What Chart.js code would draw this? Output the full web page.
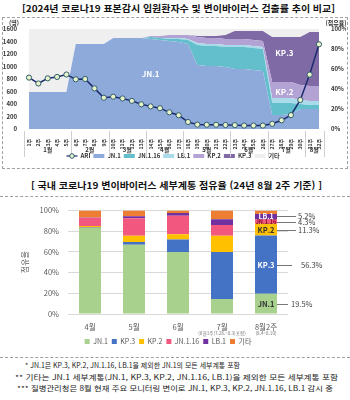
<!DOCTYPE html>
<html lang="ko">
<head>
<meta charset="utf-8">
<script src="https://cdn.jsdelivr.net/npm/chart.js@4.4.1/dist/chart.umd.min.js"></script>
<style>
  body { margin: 0; width: 350px; height: 400px; background: #fff; position: relative; overflow: hidden;
         font-family: "Noto Sans CJK KR", "Noto Sans", sans-serif; }
  .txt { position: absolute; white-space: nowrap; transform-origin: left center; line-height: 10px; color: #111; }
  .titulo { font-weight: bold; font-size: 9.4px; }
  .nota { font-size: 7px; color: #222; }
  #caja1 { position: absolute; left: 2px; top: 17px; width: 344px; height: 150px; border: 1px dashed #a0a0a0; }
  #w1 { position: absolute; left: 0; top: 17px; width: 350px; height: 152px; }
  #w2 { position: absolute; left: 0; top: 197px; width: 350px; height: 158px; }
  .linea { position: absolute; left: 0; width: 350px; height: 0; border-top: 1px dashed #a0a0a0; }
</style>
</head>
<body>
<span class="txt titulo" style="left:22px; top:3px" data-ancho="313">[2024년 코로나19 표본감시 입원환자수 및 변이바이러스 검출률 추이 비교]</span>
<div id="caja1"></div>
<div id="w1"><canvas id="grafica1"></canvas></div>
<span class="txt titulo" style="left:31px; top:180px" data-ancho="291">[ 국내 코로나19 변이바이러스 세부계통 점유율 (24년 8월 2주 기준) ]</span>
<div class="linea" style="top:196px"></div>
<div id="w2"><canvas id="grafica2"></canvas></div>
<div class="linea" style="top:357px"></div>
<span class="txt nota" style="left:25px; top:360px" data-ancho="215">* JN.1은 KP.3, KP.2, JN.1.16, LB.1을 제외한 JN.1의 모든 세부계통 포함</span>
<span class="txt nota" style="left:15px; top:372px" data-ancho="323">** 기타는 JN.1 세부계통(JN.1, KP.3, KP.2, JN.1.16, LB.1)을 제외한 모든 세부계통 포함</span>
<span class="txt nota" style="left:17px; top:383px" data-ancho="316">*** 질병관리청은 8월 현재 주요 모니터링 변이로 JN.1, KP.3, KP.2, JN.1.16, LB.1 감시 중</span>

<script>
// ---------- datos: gráfica 1 (입원환자수 + 검출률) ----------
const semanas = ['1주','2주','3주','4주','5주','6주','7주','8주','9주','10주','11주','12주','13주','14주','15주','16주',
                 '17주','18주','19주','20주','21주','22주','23주','24주','25주','26주','27주','28주','29주','30주','31주','32주'];
const meses = ['1월','2월','3월','4월','5월','6월','7월','8월'];
const semanasPorMes = [5, 4, 4, 4, 5, 4, 4, 2];
const ari = [822,728,811,833,872,795,800,650,500,517,489,450,395,362,333,267,
             220,112,70,68,68,64,62,55,55,55,83,139,222,465,870,1355];
const pctJN1   = [37,37,37,37,37,85,85,85,85,91,91,91,91,90,89,88,87,85,64,63,63,62,60,60,59,58,14,14,15,20,20,20];
const pctJN116 = [0,0,0,0,0,0,0,0,0,0,0,0,0,2,2,2,3,4,20,20,20,20,22,22,22,22,12,12,11,5,4,4];
const pctLB1   = [0,0,0,0,0,0,0,0,0,0,0,0,0,0,0,1,1,1,2,2,2,2,2,2,2,2,5,5,5,4,4,4];
const pctKP2   = [0,0,0,0,0,0,0,0,0,0,0,0,0,1,2,3,3,4,6,6,6,6,6,6,6,6,16,16,16,15,15,15];
const pctKP3   = [0,0,0,0,0,0,0,0,0,0,0,0,0,0,0,0,0,0,1,2,2,4,8,8,9,10,45,45,45,48,54,54];
const pctEtc   = [63,63,63,63,63,15,15,15,15,9,9,9,9,7,7,6,6,6,7,7,7,6,2,2,2,2,8,8,8,8,3,3];
const rotulosArea = [
  { texto: 'JN.1', semana: 13, pct: 55 },
  { texto: 'KP.3', semana: 27.3, pct: 76 },
  { texto: 'KP.2', semana: 27.3, pct: 37.5 }
];

// ---------- datos: gráfica 2 (세부계통 점유율) ----------
const meses2 = ['4월', '5월', '6월', '7월', '8월2주'];
const subMeses2 = ['', '', '', '(8월1주(7.28.~8.3)포함)', '(8.4~8.10)'];
const linajes2 = ['JN.1', 'KP.3', 'KP.2', 'JN.1.16', 'LB.1', '기타'];
const valJN1   = [83, 67, 60, 14.5, 19.5];
const valKP3   = [0.5, 2.5, 12, 45.5, 56.3];
const valKP2   = [1.5, 6, 5, 15.7, 11.3];
const valJN116 = [8, 17, 18, 10.3, 4.3];
const valLB1   = [0.2, 2, 2.5, 5.5, 5.2];
const valEtc   = [6.8, 5.5, 2.5, 8.5, 3.4];

Chart.defaults.font.family = '"Noto Sans CJK KR", "Noto Sans", sans-serif';
Chart.defaults.animation = false;

// ajustar ancho de textos html
document.querySelectorAll('[data-ancho]').forEach(el => {
  const w = el.getBoundingClientRect().width;
  el.style.transform = 'scaleX(' + (el.dataset.ancho / w) + ')';
});

// ---------- gráfica 1 ----------
const coloresArea = ['#8eaadb', '#62bfcb', '#a9dbea', '#b3a3d4', '#7f6aa6', '#efefef'];
const nombresArea = ['JN.1', 'JN.1.16', 'LB.1', 'KP.2', 'KP.3', '기타'];
const seriesArea = [pctJN1, pctJN116, pctLB1, pctKP2, pctKP3, pctEtc];

const dsArea = seriesArea.map((d, i) => ({
  type: 'line',
  label: nombresArea[i],
  data: d,
  yAxisID: 'y1',
  backgroundColor: coloresArea[i],
  borderColor: coloresArea[i],
  borderWidth: 0,
  pointRadius: 0,
  fill: i === 0 ? 'origin' : '-1',
  tension: 0
}));

const gruposMeses = {
  id: 'gruposMeses',
  afterDraw(chart) {
    const x = chart.scales.x, ctx = chart.ctx;
    const abajo = chart.chartArea.bottom;
    const paso = x.getPixelForValue(1) - x.getPixelForValue(0);
    ctx.save();
    ctx.strokeStyle = '#cfcfcf';
    ctx.lineWidth = 1;
    ctx.fillStyle = '#333';
    ctx.font = 'bold 6px "Noto Sans CJK KR"';
    ctx.textAlign = 'center';
    ctx.textBaseline = 'middle';
    let ini = 0;
    semanasPorMes.forEach((n, i) => {
      const fin = ini + n - 1;
      const x0 = x.getPixelForValue(ini) - paso / 2;
      const x1 = x.getPixelForValue(fin) + paso / 2;
      ctx.beginPath();
      ctx.moveTo(Math.round(x0) + 0.5, abajo + 2);
      ctx.lineTo(Math.round(x0) + 0.5, abajo + 28);
      if (i === semanasPorMes.length - 1) {
        ctx.moveTo(Math.round(x1) + 0.5, abajo + 2);
        ctx.lineTo(Math.round(x1) + 0.5, abajo + 28);
      }
      ctx.stroke();
      ctx.fillText(meses[i], (x0 + x1) / 2, abajo + 21);
      ini = fin + 1;
    });
    // titulos de ejes
    ctx.font = 'bold 6px "Noto Sans CJK KR"';
    ctx.fillText('(명)', 14, chart.chartArea.top - 6);
    ctx.fillText('(점유율)', 336, chart.chartArea.top - 6);
    // rotulos dentro del area
    ctx.fillStyle = '#ffffff';
    ctx.font = 'bold 8px "Noto Sans CJK KR"';
    rotulosArea.forEach(r => {
      ctx.fillText(r.texto, x.getPixelForValue(r.semana), chart.scales.y1.getPixelForValue(r.pct));
    });
    // icono ARI en la leyenda
    const lg = chart.legend;
    const k = lg.legendItems.findIndex(it => it.text === 'ARI');
    if (k >= 0) {
      const hb = lg.legendHitBoxes[k];
      const cy = hb.top + hb.height / 2;
      ctx.strokeStyle = '#1b2a6b';
      ctx.lineWidth = 1.2;
      ctx.beginPath();
      ctx.moveTo(hb.left, cy);
      ctx.lineTo(hb.left + 11, cy);
      ctx.stroke();
      ctx.beginPath();
      ctx.arc(hb.left + 5.5, cy, 2.3, 0, Math.PI * 2);
      ctx.fillStyle = '#e9f3c9';
      ctx.fill();
      ctx.strokeStyle = '#2f5d6e';
      ctx.lineWidth = 1;
      ctx.stroke();
    }
    ctx.restore();
  }
};

new Chart(document.getElementById('grafica1'), {
  data: {
    labels: semanas,
    datasets: [{
      type: 'line',
      label: 'ARI',
      data: ari,
      yAxisID: 'y',
      borderColor: '#1b2a6b',
      borderWidth: 1.5,
      backgroundColor: 'rgba(0,0,0,0)',
      pointRadius: 2.6,
      pointBackgroundColor: '#e9f3c9',
      pointBorderColor: '#2f5d6e',
      pointBorderWidth: 1,
      fill: false,
      tension: 0
    }, ...dsArea]
  },
  options: {
    responsive: true,
    maintainAspectRatio: false,
    layout: { padding: { top: 12, bottom: 0, left: 0, right: 4 } },
    plugins: {
      tooltip: { enabled: false },
      legend: {
        position: 'bottom',
        sort: (a, b) => (a.datasetIndex === 0) - (b.datasetIndex === 0) || a.datasetIndex - b.datasetIndex,
        labels: {
          boxWidth: 11,
          boxHeight: 4,
          padding: 3,
          color: '#333',
          font: { size: 6, weight: 'bold' },
          generateLabels(chart) {
            const items = Chart.defaults.plugins.legend.labels.generateLabels(chart);
            items.forEach(it => {
              it.lineWidth = 0;
              if (it.text === 'ARI') { it.fillStyle = 'rgba(0,0,0,0)'; it.strokeStyle = 'rgba(0,0,0,0)'; }
            });
            return items;
          }
        }
      }
    },
    scales: {
      x: {
        grid: { display: false },
        border: { display: false },
        ticks: { autoSkip: false, maxRotation: 90, minRotation: 90, padding: 2, color: '#333', font: { size: 5, weight: 'bold' } },
        afterFit(s) { s.height = 21; }
      },
      y: {
        position: 'left',
        min: 0, max: 1600,
        grid: { display: false },
        border: { display: false },
        ticks: { stepSize: 200, padding: 4, color: '#333', font: { size: 6, weight: 'bold' }, callback: v => String(v) },
        afterFit(s) { s.width = 29; }
      },
      y1: {
        position: 'right',
        stacked: true,
        min: 0, max: 100,
        grid: { display: false },
        border: { display: false },
        ticks: { stepSize: 10, padding: 4, color: '#333', font: { size: 6, weight: 'bold' }, callback: v => v + '%' },
        afterFit(s) { s.width = 27; }
      }
    }
  },
  plugins: [gruposMeses]
});

// ---------- gráfica 2 ----------
const colores2 = ['#a9d18e', '#4472c4', '#ffc000', '#f2587f', '#7030a0', '#ed7d31'];
const series2 = [valJN1, valKP3, valKP2, valJN116, valLB1, valEtc];

const etiquetasAgosto = {
  id: 'etiquetasAgosto',
  afterDatasetsDraw(chart) {
    const ctx = chart.ctx;
    const idx = meses2.length - 1;
    const colorTexto = ['#333', '#fff', '#333', '#8b0a2a', '#fff'];
    const tamTexto = [7.5, 7.5, 7.5, 5.5, 7];
    const finLinea = [11, 15, 19, 19, 19];
    const xTexto = [14, 24, 21, 21, 21];
    const ajusteY = [0, 0, 0, 0.5, -0.5];
    ctx.save();
    ctx.textBaseline = 'middle';
    for (let i = 0; i < 5; i++) {
      const bar = chart.getDatasetMeta(i).data[idx];
      const cy = (bar.y + bar.base) / 2 + ajusteY[i];
      const der = bar.x + bar.width / 2;
      ctx.textAlign = 'center';
      ctx.fillStyle = colorTexto[i];
      ctx.font = 'bold ' + tamTexto[i] + 'px "Noto Sans CJK KR"';
      ctx.fillText(linajes2[i], bar.x, cy);
      ctx.strokeStyle = '#777';
      ctx.lineWidth = 1;
      ctx.beginPath();
      ctx.moveTo(der, Math.round(cy) + 0.5);
      ctx.lineTo(der + finLinea[i], Math.round(cy) + 0.5);
      ctx.stroke();
      ctx.textAlign = 'left';
      ctx.fillStyle = '#404040';
      ctx.font = '7.5px "Noto Sans CJK KR"';
      ctx.fillText(series2[i][idx].toFixed(1) + '%', der + xTexto[i], cy);
    }
    // sub-rotulos del eje x
    const x = chart.scales.x;
    ctx.textAlign = 'center';
    ctx.fillStyle = '#777';
    ctx.font = '4.6px "Noto Sans CJK KR"';
    subMeses2.forEach((t, i) => {
      if (t) ctx.fillText(t, x.getPixelForValue(i), x.top + 19);
    });
    ctx.restore();
  }
};

new Chart(document.getElementById('grafica2'), {
  type: 'bar',
  data: {
    labels: meses2,
    datasets: linajes2.map((n, i) => ({
      label: n,
      data: series2[i],
      backgroundColor: colores2[i],
      borderWidth: 0,
      categoryPercentage: 1,
      barPercentage: 0.5
    }))
  },
  options: {
    responsive: true,
    maintainAspectRatio: false,
    layout: { padding: { top: 9, bottom: 0, left: 0, right: 14 } },
    plugins: {
      tooltip: { enabled: false },
      legend: {
        position: 'bottom',
        labels: { boxWidth: 5, boxHeight: 5, padding: 4, color: '#595959', font: { size: 7 } }
      }
    },
    scales: {
      x: {
        stacked: true,
        grid: { display: false },
        border: { display: false },
        ticks: { padding: 1, color: '#595959', font: { size: 7.5 } },
        afterFit(s) { s.height = 20; }
      },
      y: {
        stacked: true,
        min: 0, max: 100,
        grid: { color: '#d9d9d9', drawTicks: false },
        border: { display: false },
        ticks: { stepSize: 20, padding: 9, color: '#595959', font: { size: 7.5 }, callback: v => v + '%' },
        title: { display: true, text: '점유율', color: '#595959', font: { size: 8 }, padding: { top: 20, bottom: 0 } },
        afterFit(s) { s.width = 68; }
      },
      yDer: {
        position: 'right',
        min: 0, max: 100,
        grid: { display: false },
        border: { display: false },
        ticks: { display: false },
        afterFit(s) { s.width = 48; }
      }
    }
  },
  plugins: [etiquetasAgosto]
});
</script>
</body>
</html>
